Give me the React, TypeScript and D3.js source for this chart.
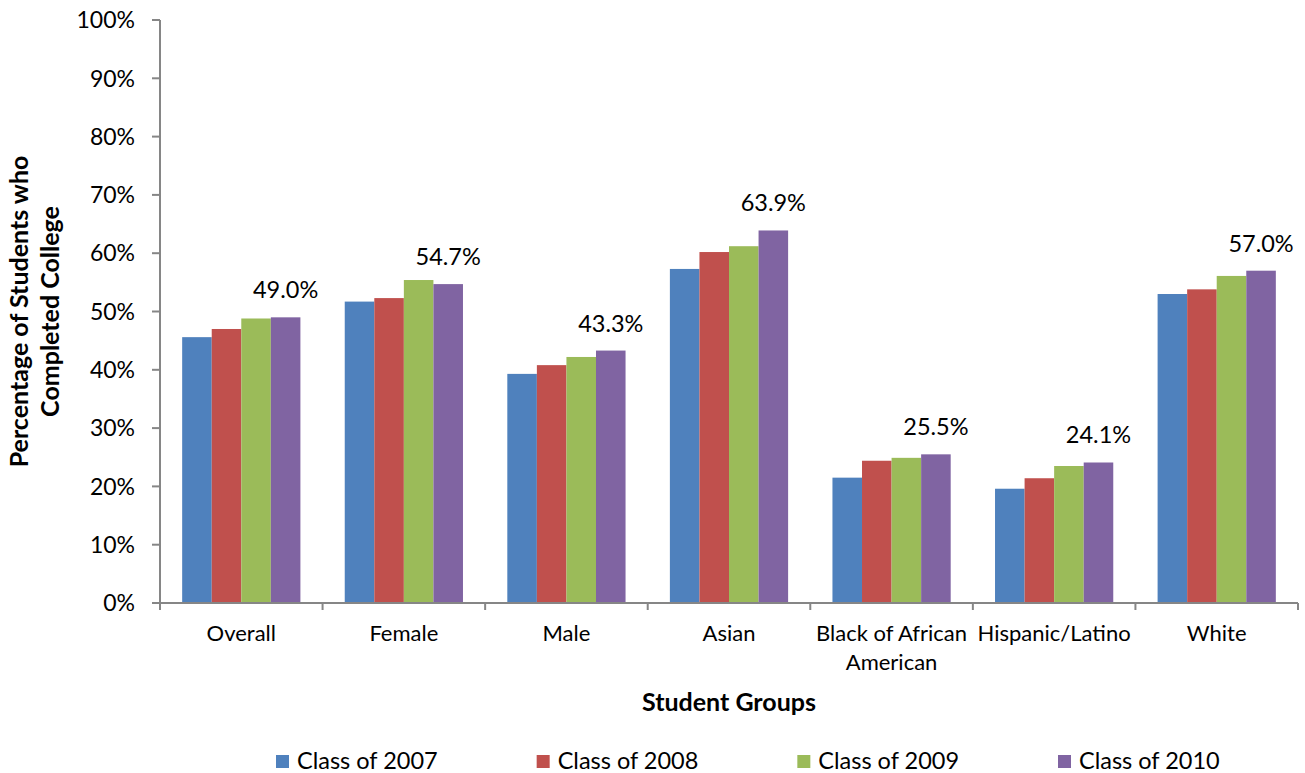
import React, { useEffect, useRef } from "react";
import * as d3 from "d3";

const categories = [
  "Overall",
  "Female",
  "Male",
  "Asian",
  "Black of African\nAmerican",
  "Hispanic/Latino",
  "White",
];
const seriesNames = ["Class of 2007", "Class of 2008", "Class of 2009", "Class of 2010"];
const class2007 = [45.6, 51.7, 39.3, 57.3, 21.5, 19.6, 53.0];
const class2008 = [47.0, 52.3, 40.8, 60.2, 24.4, 21.4, 53.8];
const class2009 = [48.8, 55.4, 42.2, 61.2, 24.9, 23.5, 56.1];
const class2010 = [49.0, 54.7, 43.3, 63.9, 25.5, 24.1, 57.0];
const seriesColors = ["#4F81BD", "#C0504D", "#9BBB59", "#8064A2"];
const yTicks = [0, 10, 20, 30, 40, 50, 60, 70, 80, 90, 100];

export default function App() {
  const ref = useRef<SVGSVGElement>(null);

  useEffect(() => {
    document.body.style.margin = "0";
    const svg = d3.select(ref.current);
    svg.selectAll("*").remove();

    const width = 1305;
    const height = 773;
    const margin = { top: 20, right: 7, bottom: 170, left: 160 };
    const font = "Lato, 'Open Sans', sans-serif";
    const axisColor = "#868686";
    const series = [class2007, class2008, class2009, class2010];

    const x = d3
      .scaleBand()
      .domain(categories)
      .range([margin.left, width - margin.right]);
    // Excel-style gap: 1.5 bar widths split over both sides
    const x1 = d3
      .scaleBand()
      .domain(seriesNames)
      .range([0, x.bandwidth()])
      .paddingInner(0)
      .paddingOuter(0.75);
    const y = d3
      .scaleLinear()
      .domain([0, 100])
      .range([height - margin.bottom, margin.top]);

    const g = svg.append("g");

    // bars
    categories.forEach((c, ci) => {
      series.forEach((s, si) => {
        g.append("rect")
          .attr("x", (x(c) as number) + (x1(seriesNames[si]) as number))
          .attr("y", y(s[ci]))
          .attr("width", x1.bandwidth())
          .attr("height", y(0) - y(s[ci]))
          .attr("fill", seriesColors[si]);
      });
      // data label on the last series
      const last = class2010[ci];
      g.append("text")
        .attr(
          "x",
          (x(c) as number) + (x1(seriesNames[3]) as number) + x1.bandwidth() / 2
        )
        .attr("y", y(last) - 19)
        .attr("text-anchor", "middle")
        .attr("font-family", font)
        .attr("font-size", 23.5)
        .attr("fill", "#000")
        .text(last.toFixed(1) + "%");
    });

    // y axis
    const y0 = y(0);
    g.append("line")
      .attr("x1", margin.left)
      .attr("x2", margin.left)
      .attr("y1", y(100))
      .attr("y2", y0 + 6)
      .attr("stroke", axisColor)
      .attr("stroke-width", 2);
    yTicks.forEach((t) => {
      g.append("line")
        .attr("x1", margin.left - 8)
        .attr("x2", margin.left)
        .attr("y1", y(t))
        .attr("y2", y(t))
        .attr("stroke", axisColor)
        .attr("stroke-width", 2);
      g.append("text")
        .attr("x", 135)
        .attr("y", y(t))
        .attr("dy", "0.36em")
        .attr("text-anchor", "end")
        .attr("font-family", font)
        .attr("font-size", 23)
        .attr("fill", "#000")
        .text(t + "%");
    });

    // x axis
    g.append("line")
      .attr("x1", margin.left - 8)
      .attr("x2", width - margin.right)
      .attr("y1", y0)
      .attr("y2", y0)
      .attr("stroke", axisColor)
      .attr("stroke-width", 2);
    const boundaries = categories.map((c) => x(c) as number).concat([width - margin.right]);
    boundaries.forEach((bx) => {
      g.append("line")
        .attr("x1", bx)
        .attr("x2", bx)
        .attr("y1", y0)
        .attr("y2", y0 + 7)
        .attr("stroke", axisColor)
        .attr("stroke-width", 2);
    });
    categories.forEach((c) => {
      const lines = c.split("\n");
      const t = g
        .append("text")
        .attr("x", (x(c) as number) + x.bandwidth() / 2)
        .attr("y", 641)
        .attr("text-anchor", "middle")
        .attr("font-family", font)
        .attr("font-size", 22)
        .attr("fill", "#000");
      lines.forEach((l, i) => {
        t.append("tspan")
          .attr("x", (x(c) as number) + x.bandwidth() / 2)
          .attr("dy", i === 0 ? 0 : 29)
          .text(l);
      });
    });

    // axis titles
    g.append("text")
      .attr("x", (margin.left + width - margin.right) / 2)
      .attr("y", 711)
      .attr("text-anchor", "middle")
      .attr("font-family", font)
      .attr("font-weight", "bold")
      .attr("font-size", 25)
      .attr("fill", "#000")
      .text("Student Groups");

    const yt = g
      .append("text")
      .attr("transform", `translate(0, ${(y(0) + y(100)) / 2}) rotate(-90)`)
      .attr("text-anchor", "middle")
      .attr("font-family", font)
      .attr("font-weight", "bold")
      .attr("font-size", 25)
      .attr("fill", "#000");
    yt.append("tspan").attr("x", 0).attr("y", 28).text("Percentage of Students who");
    yt.append("tspan").attr("x", 0).attr("y", 59).text("Completed College");

    // legend
    const legendX = d3.scalePoint().domain(seriesNames).range([276, 1058]);
    seriesNames.forEach((name, i) => {
      const lx = legendX(name) as number;
      g.append("rect")
        .attr("x", lx)
        .attr("y", 755)
        .attr("width", 13)
        .attr("height", 13)
        .attr("fill", seriesColors[i]);
      g.append("text")
        .attr("x", lx + 21)
        .attr("y", 769)
        .attr("font-family", font)
        .attr("font-size", 23.5)
        .attr("fill", "#000")
        .text(name);
    });
  }, []);

  return <svg ref={ref} width={1305} height={773} style={{ display: "block" }} />;
}
